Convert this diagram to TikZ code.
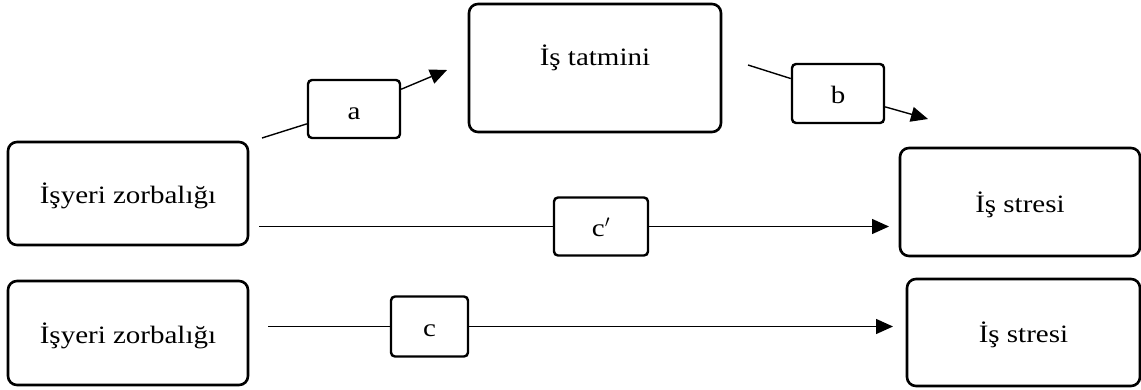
\documentclass[tikz,border=0pt]{standalone}
\usepackage{fontspec}
\setmainfont[FakeStretch=1.16]{Liberation Serif}
\usetikzlibrary{arrows.meta}
\tikzset{
  txt/.style={font=\fontsize{25}{29}\selectfont},
  bigbox/.style={draw, line width=2.6pt, rounded corners=9pt, inner sep=0pt, txt, text height=20pt, text depth=0pt},
  smallbox/.style={draw, line width=2.4pt, rounded corners=4pt, inner sep=0pt, txt, text height=20pt, text depth=0pt},
  conn/.style={line width=1.4pt},
  arr/.style={conn, -{Triangle[length=17pt,width=15pt]}}
}
\begin{document}
\begin{tikzpicture}[x=1pt,y=-1pt]
\useasboundingbox (0,0) rectangle (1141,389);
% big boxes
\node[bigbox, minimum width=240pt, minimum height=103pt] (iz1) at (128,193.5) {İşyeri zorbalığı};
\node[bigbox, minimum width=252pt, minimum height=128pt] (it) at (595,68) {};
\node[txt, anchor=base] (itl) at (595,65) {İş tatmini};
\node[bigbox, minimum width=240pt, minimum height=108pt] (is1) at (1020,202) {İş stresi};
\node[bigbox, minimum width=240pt, minimum height=104pt] (iz2) at (128,333) {İşyeri zorbalığı};
\node[bigbox, minimum width=233pt, minimum height=107pt] (is2) at (1023.5,332.5) {İş stresi};
% small boxes
\node[smallbox, minimum width=92pt, minimum height=58pt] (a) at (354,109) {a};
\node[smallbox, minimum width=92pt, minimum height=59pt] (b) at (838,93.5) {b};
\node[smallbox, minimum width=94pt, minimum height=58pt] (cp) at (601,226.5) {c$'$};
\node[smallbox, minimum width=77pt, minimum height=60pt] (c) at (429.5,326.5) {c};
% free ends
\coordinate (sa) at (262,138);
\coordinate (ta) at (447,70);
\coordinate (sb) at (748,65);
\coordinate (tb) at (928,119);
\coordinate (scp) at (259,226.5);
\coordinate (tcp) at (889,226.5);
\coordinate (sc) at (268,326.5);
\coordinate (tc) at (893,326.5);
% connectors
\draw[conn] (sa) -- (a);
\draw[arr] (a) -- (ta);
\draw[conn] (sb) -- (b);
\draw[arr] (b) -- (tb);
\draw[conn] (scp) -- (cp);
\draw[arr] (cp) -- (tcp);
\draw[conn] (sc) -- (c);
\draw[arr] (c) -- (tc);
\end{tikzpicture}
\end{document}
